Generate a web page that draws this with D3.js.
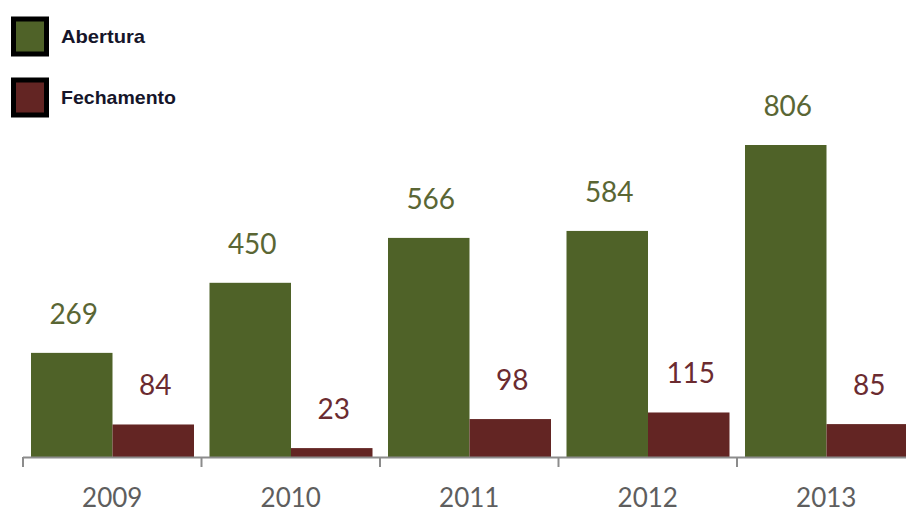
<!DOCTYPE html>
<html><head><meta charset="utf-8">
<script src="https://cdn.jsdelivr.net/npm/d3@7"></script>
<style>body{margin:0;background:#fff}svg{display:block}</style>
</head><body>
<svg id="c" width="906" height="514"></svg>
<script>
const years = ["2009","2010","2011","2012","2013"];
const seriesNames = ["Abertura","Fechamento"];
const abertura = [269,450,566,584,806];
const fechamento = [84,23,98,115,85];
const colors = ["#4f6228","#632523"];
const labelColors = ["#5a6634","#6b2b30"];

const svg = d3.select("#c");
const base = 457;
const x = d3.scaleBand().domain(years).range([23, 23 + 178.5*5]).padding(0);
const x1 = d3.scaleBand().domain(seriesNames).range([8, 171]).padding(0);
const y = d3.scaleLinear().domain([0, 806]).range([base, 145]);

const data = years.map((yr,i)=>({yr, vals:[abertura[i], fechamento[i]]}));

const g = svg.append("g");
data.forEach(d=>{
  d.vals.forEach((v,j)=>{
    const xs = x(d.yr) + x1(seriesNames[j]);
    g.append("rect").attr("x", xs).attr("y", y(v)).attr("width", x1.bandwidth()).attr("height", base - y(v)).attr("fill", colors[j]);
    g.append("text").attr("x", xs + x1.bandwidth()/2 + 2).attr("y", y(v) - 29)
      .attr("text-anchor","middle").attr("font-family","Lato, 'Open Sans', sans-serif").attr("font-size", 28)
      .attr("fill", labelColors[j]).text(v);
  });
});

// axis
const axisG = svg.append("g").attr("transform", `translate(0,${base})`);
axisG.append("line").attr("x1", x.range()[0]).attr("x2", x.range()[1]).attr("y1",0.5).attr("y2",0.5).attr("stroke","#8c8c8c").attr("stroke-width",2);
const bounds = years.map(yr=>x(yr)).concat([x.range()[1]]);
axisG.selectAll("line.tk").data(bounds).enter().append("line").attr("class","tk")
  .attr("x1",d=>d).attr("x2",d=>d).attr("y1",0).attr("y2",10).attr("stroke","#8c8c8c").attr("stroke-width",2);
const ax = d3.axisBottom(x).tickSize(0).tickPadding(0);
const lab = svg.append("g").attr("transform", `translate(0,${base})`).call(ax);
lab.select(".domain").remove();
lab.selectAll("text").attr("dy", null).attr("y", 50).attr("font-family","Lato, 'Open Sans', sans-serif").attr("font-size", 26).attr("fill","#5e5e5e");

// legend
const leg = svg.append("g");
seriesNames.forEach((s,i)=>{
  const yy = 19 + i*61;
  leg.append("rect").attr("x", 13.5).attr("y", yy).attr("width", 33).attr("height", 35).attr("fill", colors[i]).attr("stroke","#000").attr("stroke-width",5);
  leg.append("text").attr("x", 61).attr("y", yy + 24).attr("font-family","'Liberation Sans', Arial, sans-serif").attr("font-weight","bold").attr("font-size",19)
    .attr("fill","#15152a").attr("textLength", i===0?84:115).attr("lengthAdjust","spacingAndGlyphs").text(s);
});
</script>
</body></html>
